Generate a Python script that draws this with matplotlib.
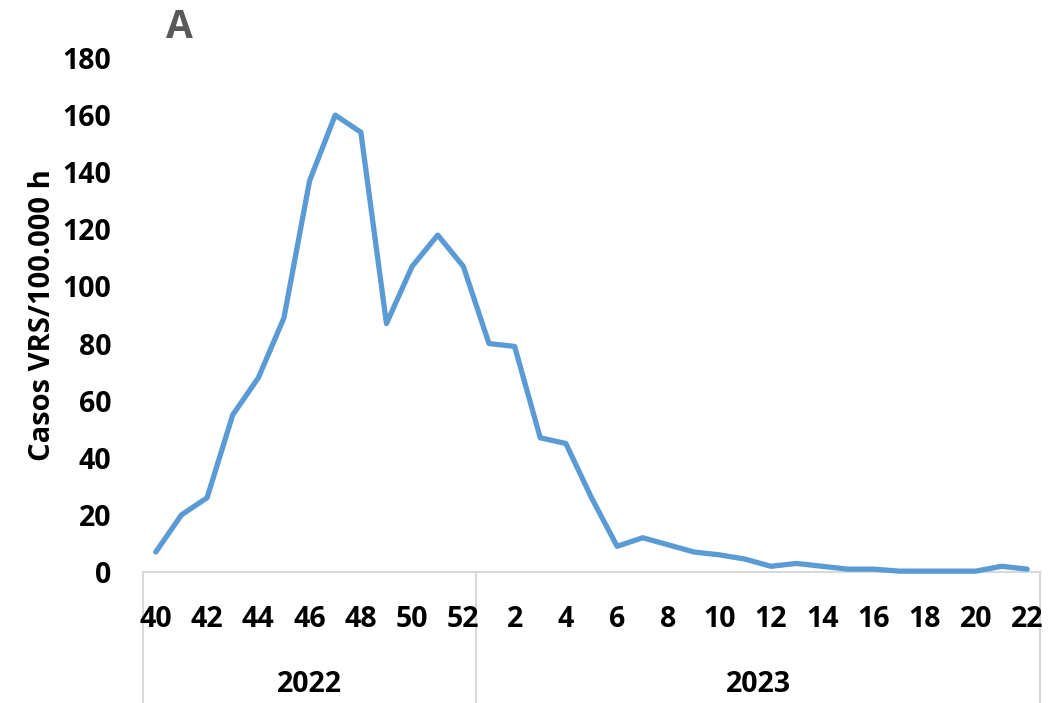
import matplotlib
matplotlib.use("Agg")
import matplotlib.pyplot as plt
import matplotlib.transforms as mtransforms

weeks_2022 = [40, 41, 42, 43, 44, 45, 46, 47, 48, 49, 50, 51, 52]
weeks_2023 = list(range(1, 23))
values_2022 = [7, 20, 26, 55, 68, 89, 137, 160, 154, 87, 107, 118, 107]
values_2023 = [80, 79, 47, 45, 26, 9, 12, 9.5, 7, 6, 4.5, 2, 3, 2, 1, 1, 0.3, 0.3, 0.3, 0.3, 2, 1]
years = ["2022", "2023"]
y_ticks = [0, 20, 40, 60, 80, 100, 120, 140, 160, 180]
y_label = "Casos VRS/100.000 h"
panel = "A"

plt.rcParams['font.family'] = ['Open Sans', 'DejaVu Sans']

weeks = weeks_2022 + weeks_2023
values = values_2022 + values_2023
xs = list(range(len(weeks)))

W, H = 1048, 703
fig = plt.figure(figsize=(W / 100, H / 100), dpi=100)
left, right, bottom, top = 143, 1040, 572, 58
ax = fig.add_axes([left / W, 1 - bottom / H, (right - left) / W, (bottom - top) / H])

ax.plot(xs, values, color='#5B9BD5', lw=3.8, solid_joinstyle='round', solid_capstyle='round',
        clip_on=False, zorder=3)
ax.set_xlim(-0.5, len(weeks) - 0.5)
ax.set_ylim(0, 180)
ax.set_yticks(y_ticks)
ax.set_yticklabels([str(t) for t in y_ticks], fontsize=20.5, fontweight='bold')
ax.tick_params(axis='y', length=0, pad=23)
for s in ['top', 'right', 'left']:
    ax.spines[s].set_visible(False)
ax.spines['bottom'].set_color('#D9D9D9')
ax.spines['bottom'].set_linewidth(1.5)

tick_idx = [i for i, w in enumerate(weeks) if w % 2 == 0]
ax.set_xticks(tick_idx)
ax.set_xticklabels([str(weeks[i]) for i in tick_idx], fontsize=20.5, fontweight='bold')
ax.tick_params(axis='x', length=0, pad=24)

ax.set_ylabel(y_label, fontsize=21, fontweight='bold', labelpad=4)

trans = mtransforms.blended_transform_factory(ax.transData, ax.transAxes)
depth = -(H - bottom) / (bottom - top)
n22 = len(weeks_2022)
for xv in [-0.5, n22 - 0.5, len(weeks) - 0.5]:
    ax.plot([xv, xv], [0, depth], transform=trans, color='#D9D9D9', lw=1.5, clip_on=False, zorder=1)

year_y = -(684 - bottom) / (bottom - top)
ax.text((n22 - 1) / 2, year_y, years[0], transform=trans, ha='center', va='center', fontsize=20.5, fontweight='bold')
ax.text((n22 + len(weeks) - 1) / 2, year_y, years[1], transform=trans, ha='center', va='center', fontsize=20.5, fontweight='bold')

fig.text(179 / W, 1 - 27 / H, panel, ha='center', va='center', fontsize=28, fontweight='bold', color='#595959')

fig.savefig('out.png', dpi=100)
